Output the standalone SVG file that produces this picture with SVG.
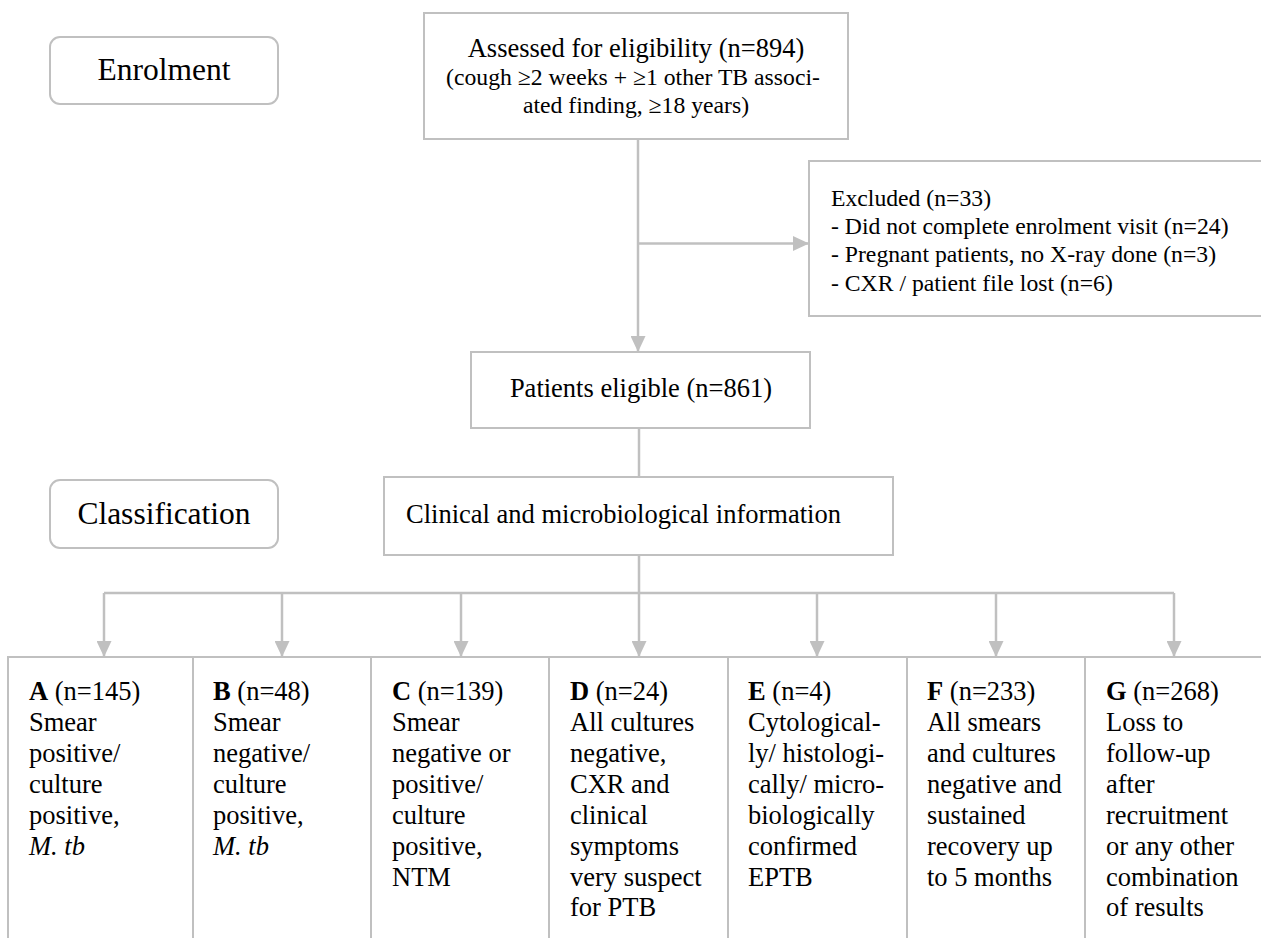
<svg xmlns="http://www.w3.org/2000/svg" width="1261" height="938" viewBox="0 0 1261 938">
<style>
text{font-family:"Liberation Serif","Times New Roman",serif;fill:#000}
.box{fill:#fff;stroke:#c0c0c0;stroke-width:2}
.lbl{font-size:31.5px;text-anchor:middle}
.m{font-size:26.5px}
.s{font-size:23.7px}
.c{text-anchor:middle}
.con{fill:none;stroke:#c0c0c0;stroke-width:2.5}
.b{font-weight:bold}
.i{font-style:italic}
</style>
<defs>
<marker id="ah" markerUnits="userSpaceOnUse" markerWidth="16" markerHeight="15" refX="16" refY="7.5" orient="auto">
<path d="M0,0 L16,7.5 L0,15 z" fill="#c0c0c0"/>
</marker>
</defs>
<rect width="1261" height="938" fill="#fff"/>

<g id="connectors">
<path class="con" d="M638,139 V352" marker-end="url(#ah)"/>
<path class="con" d="M638,243.5 H809" marker-end="url(#ah)"/>
<path class="con" d="M639,428 V477"/>
<path class="con" d="M639,555 V593 M104,593 H1174"/>
<path class="con" d="M104,593 V657" marker-end="url(#ah)"/>
<path class="con" d="M282,593 V657" marker-end="url(#ah)"/>
<path class="con" d="M461,593 V657" marker-end="url(#ah)"/>
<path class="con" d="M639,593 V657" marker-end="url(#ah)"/>
<path class="con" d="M817,593 V657" marker-end="url(#ah)"/>
<path class="con" d="M996,593 V657" marker-end="url(#ah)"/>
<path class="con" d="M1174,593 V657" marker-end="url(#ah)"/>
</g>

<g id="enrolment">
<rect class="box" x="50" y="37" width="228" height="67" rx="10"/>
<text class="lbl" x="164" y="80">Enrolment</text>
</g>

<g id="classification">
<rect class="box" x="50" y="480" width="228" height="68" rx="10"/>
<text class="lbl" x="164" y="524">Classification</text>
</g>

<g id="assessed">
<rect class="box" x="424" y="13" width="424" height="126"/>
<text class="m c" x="636" y="57">Assessed for eligibility (n=894)</text>
<text class="s c" x="633" y="85">(cough ≥2 weeks + ≥1 other TB associ-</text>
<text class="s c" x="636" y="113">ated finding, ≥18 years)</text>
</g>

<g id="excluded">
<rect class="box" x="809" y="161" width="470" height="155"/>
<text class="s" x="831" y="206">Excluded (n=33)</text>
<text class="s" x="831" y="234">- Did not complete enrolment visit (n=24)</text>
<text class="s" x="831" y="262">- Pregnant patients, no X-ray done (n=3)</text>
<text class="s" x="831" y="291">- CXR / patient file lost (n=6)</text>
</g>

<g id="eligible">
<rect class="box" x="471" y="352" width="339" height="76"/>
<text class="m c" x="641" y="397">Patients eligible (n=861)</text>
</g>

<g id="clinical">
<rect class="box" x="384" y="477" width="509" height="78"/>
<text class="m" x="406" y="523">Clinical and microbiological information</text>
</g>

<g id="groupA">
<rect class="box" x="8" y="657" width="185" height="300"/>
<text class="m" x="29" y="700"><tspan class="b">A</tspan> (n=145)</text>
<text class="m" x="29" y="731">Smear</text>
<text class="m" x="29" y="762">positive/</text>
<text class="m" x="29" y="793">culture</text>
<text class="m" x="29" y="824">positive,</text>
<text class="m i" x="29" y="855">M. tb</text>
</g>

<g id="groupB">
<rect class="box" x="193" y="657" width="178" height="300"/>
<text class="m" x="213" y="700"><tspan class="b">B</tspan> (n=48)</text>
<text class="m" x="213" y="731">Smear</text>
<text class="m" x="213" y="762">negative/</text>
<text class="m" x="213" y="793">culture</text>
<text class="m" x="213" y="824">positive,</text>
<text class="m i" x="213" y="855">M. tb</text>
</g>

<g id="groupC">
<rect class="box" x="371" y="657" width="178" height="300"/>
<text class="m" x="392" y="700"><tspan class="b">C</tspan> (n=139)</text>
<text class="m" x="392" y="731">Smear</text>
<text class="m" x="392" y="762">negative or</text>
<text class="m" x="392" y="793">positive/</text>
<text class="m" x="392" y="824">culture</text>
<text class="m" x="392" y="855">positive,</text>
<text class="m" x="392" y="886">NTM</text>
</g>

<g id="groupD">
<rect class="box" x="549" y="657" width="179" height="300"/>
<text class="m" x="570" y="700"><tspan class="b">D</tspan> (n=24)</text>
<text class="m" x="570" y="731">All cultures</text>
<text class="m" x="570" y="762">negative,</text>
<text class="m" x="570" y="793">CXR and</text>
<text class="m" x="570" y="824">clinical</text>
<text class="m" x="570" y="855">symptoms</text>
<text class="m" x="570" y="886">very suspect</text>
<text class="m" x="570" y="916">for PTB</text>
</g>

<g id="groupE">
<rect class="box" x="728" y="657" width="179" height="300"/>
<text class="m" x="748" y="700"><tspan class="b">E</tspan> (n=4)</text>
<text class="m" x="748" y="731">Cytological-</text>
<text class="m" x="748" y="762">ly/ histologi-</text>
<text class="m" x="748" y="793">cally/ micro-</text>
<text class="m" x="748" y="824">biologically</text>
<text class="m" x="748" y="855">confirmed</text>
<text class="m" x="748" y="886">EPTB</text>
</g>

<g id="groupF">
<rect class="box" x="907" y="657" width="178" height="300"/>
<text class="m" x="927" y="700"><tspan class="b">F</tspan> (n=233)</text>
<text class="m" x="927" y="731">All smears</text>
<text class="m" x="927" y="762">and cultures</text>
<text class="m" x="927" y="793">negative and</text>
<text class="m" x="927" y="824">sustained</text>
<text class="m" x="927" y="855">recovery up</text>
<text class="m" x="927" y="886">to 5 months</text>
</g>

<g id="groupG">
<rect class="box" x="1085" y="657" width="200" height="300"/>
<text class="m" x="1106" y="700"><tspan class="b">G</tspan> (n=268)</text>
<text class="m" x="1106" y="731">Loss to</text>
<text class="m" x="1106" y="762">follow-up</text>
<text class="m" x="1106" y="793">after</text>
<text class="m" x="1106" y="824">recruitment</text>
<text class="m" x="1106" y="855">or any other</text>
<text class="m" x="1106" y="886">combination</text>
<text class="m" x="1106" y="916">of results</text>
</g>
</svg>
